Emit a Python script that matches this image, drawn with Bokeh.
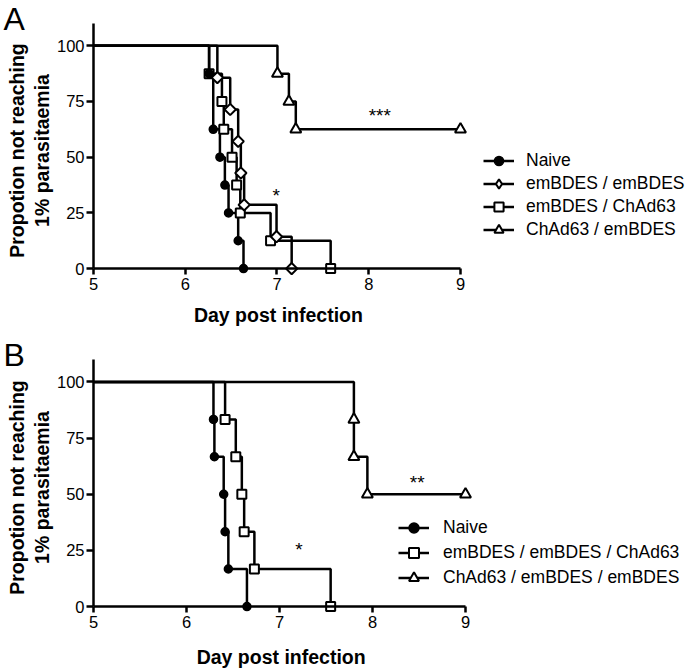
import math
from bokeh.plotting import figure
from bokeh.models import (Range1d, FixedTicker, Legend, LegendItem, Label,
                          ColumnDataSource, LinearAxis)
from bokeh.layouts import column
from bokeh.embed import file_html
from bokeh.resources import INLINE

FONT = "Liberation Sans"
NBSP = "\u00a0"

day_ticks = [5, 6, 7, 8, 9]
pct_ticks = [0, 25, 50, 75, 100]

# ---- Panel A: Kaplan-Meier steps (day, % not reaching 1% parasitaemia)
a_naive_t = [0, 6.26, 6.305, 6.378, 6.432, 6.472, 6.577, 6.635]
a_naive_s = [100, 87.5, 62.5, 50, 37.5, 25, 12.5, 0]
a_ee_t = [0, 6.35, 6.49, 6.577, 6.606, 6.642, 6.995, 7.16]
a_ee_s = [100, 85.7, 71.4, 57.1, 42.9, 28.6, 14.3, 0]
a_ec_t = [0, 6.26, 6.40, 6.42, 6.51, 6.56, 6.60, 6.93, 7.585]
a_ec_s = [100, 87.5, 75, 62.5, 50, 37.5, 25, 12.5, 0]
a_ce_t = [0, 7.005, 7.13, 7.205, 9.0]
a_ce_s = [100, 87.5, 75, 62.5, 62.5]
a_labels = ["Naive", "emBDES / emBDES", "emBDES / ChAd63", "ChAd63 / emBDES"]

# ---- Panel B
b_naive_t = [0, 6.29, 6.30, 6.40, 6.415, 6.45, 6.65]
b_naive_s = [100, 83.3, 66.7, 50, 33.3, 16.7, 0]
b_eec_t = [0, 6.415, 6.53, 6.595, 6.62, 6.73, 7.55]
b_eec_s = [100, 83.3, 66.7, 50, 33.3, 16.7, 0]
b_cee_t = [0, 7.80, 7.80, 7.945, 9.0]
b_cee_s = [100, 83.3, 66.7, 50, 50]
b_labels = ["Naive", "emBDES / emBDES / ChAd63", "ChAd63 / emBDES / emBDES"]

# significance marks: (text, day, value)
a_sig = [("*", 6.99, 32.7), ("***", 8.12, 68.9)]
b_sig = [("**", 8.48, 55.1), ("*", 7.21, 25.6)]

X_TITLE = "Day post infection"
Y_TITLE = "Propotion not reaching\n1% parasitaemia"

MARK = {
    "circle": dict(marker="circle", size=8, fill_color="black", line_width=1.5, angle=0),
    "diamond": dict(marker="square", size=8, fill_color="white", line_width=2, angle=math.pi / 4),
    "square": dict(marker="square", size=9, fill_color="white", line_width=2, angle=0),
    "triangle": dict(marker="triangle", size=11, fill_color="white", line_width=2, angle=0),
}


def make_panel(letter, height, x_end, mb_left, mb_top, mb_bottom, xlabel_standoff, pad):
    p = figure(width=685, height=height, x_range=Range1d(5, x_end), y_range=Range1d(-4, 110),
               output_backend="svg", toolbar_location=None, title=letter,
               min_border_left=mb_left, min_border_right=0,
               min_border_top=mb_top, min_border_bottom=mb_bottom)
    p.grid.visible = False
    p.outline_line_color = None
    p.background_fill_color = "white"
    p.border_fill_color = "white"

    t = p.title
    t.text_font = FONT
    t.text_font_size = "32px"
    t.text_font_style = "normal"
    t.text_color = "black"
    t.align = "left"
    t.vertical_align = "middle"
    t.offset = -90
    t.standoff = -28

    xa = p.xaxis[0]
    ya = p.yaxis[0]
    for ax in (xa, ya):
        ax.major_tick_line_width = 2.5
        ax.major_tick_line_color = "black"
        ax.minor_tick_line_color = None
        ax.minor_tick_in = 0
        ax.minor_tick_out = 0
        ax.major_label_text_font = FONT
        ax.major_label_text_font_size = "16.5px"
        ax.major_label_text_color = "black"
        ax.axis_label_text_font = FONT
        ax.axis_label_text_font_style = "bold"
        ax.axis_label_text_font_size = "19.5px"
        ax.axis_label_text_color = "black"

    # y axis (at x = 5, the frame's left edge)
    ya.ticker = FixedTicker(ticks=pct_ticks)
    ya.bounds = (0, 110)
    ya.axis_line_width = 2.5
    ya.axis_line_color = "black"
    ya.major_tick_in = 0
    ya.major_tick_out = 7
    ya.major_label_standoff = 2
    ya.axis_label = Y_TITLE
    ya.axis_label_text_line_height = 1.15
    ya.axis_label_standoff = 1

    # x axis: ticks + labels + title in the bottom panel, ticks reaching up to y = 0.
    # The frame runs on to the right edge (for the legend), so the centred title is
    # padded on its right with no-break spaces to sit under the 5-9 axis.
    xa.ticker = FixedTicker(ticks=day_ticks)
    xa.bounds = (5, 9)
    xa.axis_line_color = None
    xa.major_tick_in = 9
    xa.major_tick_out = -3
    xa.major_label_standoff = 0
    xa.axis_label = X_TITLE + NBSP * pad
    xa.axis_label_standoff = xlabel_standoff

    # the x axis line itself, sitting at y = 0
    line_ax = LinearAxis(fixed_location=0, bounds=(5, 9), ticker=FixedTicker(ticks=[]),
                         major_tick_in=0, major_tick_out=0, minor_tick_in=0, minor_tick_out=0,
                         major_label_standoff=0, major_label_text_font_size="0px",
                         axis_line_width=2.5, axis_line_color="black")
    p.add_layout(line_ax, "below")
    return p


def add_curves(p, series):
    lines, marks = [], []
    for t, s, kind in series:
        src_l = ColumnDataSource(dict(t=t, s=s))
        lr = p.step(x="t", y="s", source=src_l, mode="after", line_width=2.5, line_color="black")
        lines.append(lr)
    for t, s, kind in series:
        src_m = ColumnDataSource(dict(t=t[1:], s=s[1:]))
        m = MARK[kind]
        sr = p.scatter(x="t", y="s", source=src_m, marker=m["marker"], size=m["size"],
                       fill_color=m["fill_color"], line_color="black",
                       line_width=m["line_width"], angle=m["angle"])
        if kind == "diamond":
            # legend swatch (legends draw markers unrotated): hidden in the plot itself
            sr = p.scatter(x="t", y="s", source=src_m, marker="diamond", size=12,
                           fill_color="white", line_color="black", line_width=2,
                           visible=False)
        marks.append(sr)
    return lines, marks


def add_legend(p, labels, lines, marks, order, loc, row_h, standoff):
    items = [LegendItem(label=labels[k], renderers=[lines[i], marks[i]]) for k, i in enumerate(order)]
    lg = Legend(items=items, location=loc, orientation="vertical",
                glyph_width=31, glyph_height=row_h, label_height=row_h, spacing=0,
                label_standoff=standoff, padding=0, margin=0,
                border_line_color=None, background_fill_alpha=0,
                inactive_fill_alpha=0,
                label_text_font=FONT, label_text_font_size="17.5px", label_text_color="black")
    p.add_layout(lg)


def add_sig(p, sig):
    for txt, x, y in sig:
        p.add_layout(Label(x=x, y=y, text=txt, text_align="center", text_baseline="alphabetic",
                           text_font=FONT, text_font_size="19px", text_color="black"))


# ---------------- Panel A ----------------
pA = make_panel("A", 337, 5 + 593 / 91.9, 92, 23, 60, 11, 41)
# squares first so the naive circle sits on top of the shared first point
seriesA = [(a_ec_t, a_ec_s, "square"), (a_ee_t, a_ee_s, "diamond"),
           (a_ce_t, a_ce_s, "triangle"), (a_naive_t, a_naive_s, "circle")]
linesA, marksA = add_curves(pA, seriesA)
add_legend(pA, a_labels, linesA, marksA, [3, 1, 0, 2], (390, 36.5), 23, 12)
add_sig(pA, a_sig)

# ---------------- Panel B ----------------
pB = make_panel("B", 335, 5 + 592 / 93.0, 93, 22, 57, 15, 40)
seriesB = [(b_eec_t, b_eec_s, "square"), (b_cee_t, b_cee_s, "triangle"),
           (b_naive_t, b_naive_s, "circle")]
linesB, marksB = add_curves(pB, seriesB)
add_legend(pB, b_labels, linesB, marksB, [2, 0, 1], (305, 25.5), 25, 14)
add_sig(pB, b_sig)

layout = column(pA, pB)
open("out.html", "w").write(file_html(layout, INLINE))
